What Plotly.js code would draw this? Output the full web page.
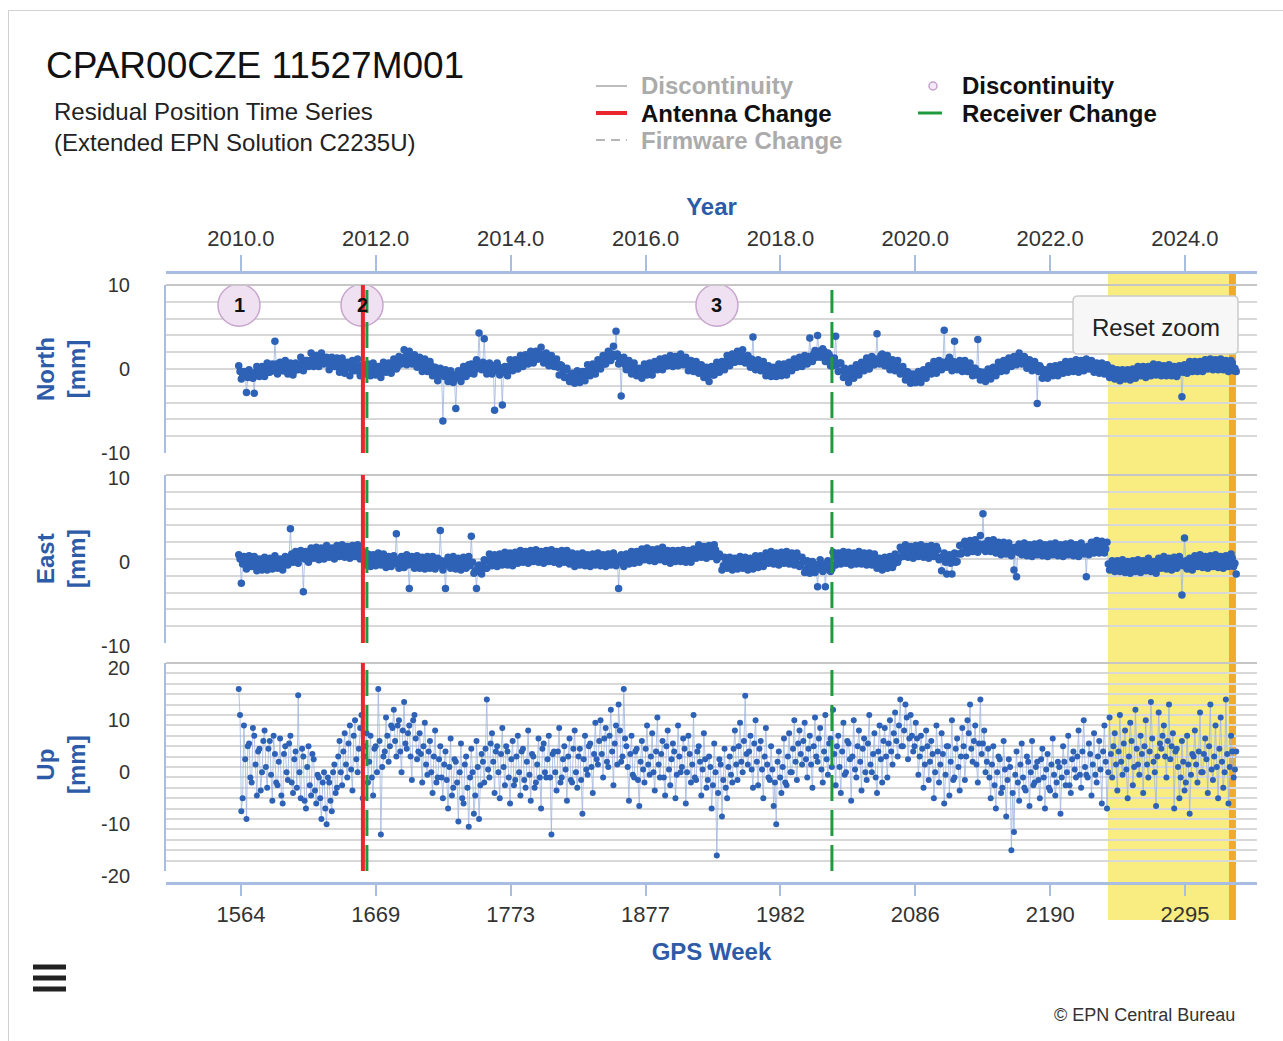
<!DOCTYPE html>
<html><head><meta charset="utf-8">
<script src="https://cdn.plot.ly/plotly-3.0.1.min.js"></script>
<style>
html,body{margin:0;padding:0;background:#fff;overflow:hidden;}
#frame{position:absolute;left:8px;top:10px;width:1300px;height:1040px;border:1px solid #d2d2d2;box-sizing:border-box;}
#chart{position:absolute;left:0;top:0;width:1283px;height:1041px;}
</style></head><body>
<div id="frame"></div><div id="chart"></div>
<script>
// ---- time sampling of the residual series (GPS weeks) ----
// "even" readings at startWeek + 2*i, "odd" readings at startWeek + 1 + 2*i
const startWeek = 1563;
const stepWeeks = 2;

// ---- residuals [mm] ----
const northEven = [
0.4,-1.2,-0.3,-2.8,-0.1,-1.0,-2.9,0.3,-0.9,0.3,
-0.9,0.7,-0.4,0.6,3.3,-0.6,0.8,-0.2,1.0,-0.6,
0.7,-0.7,0.7,-0.1,1.4,-0.2,1.0,0.3,1.9,0.3,
1.6,0.3,1.9,0.6,1.4,-0.1,1.4,0.3,1.3,-0.4,
1.3,-0.5,0.8,-0.8,1.0,-0.2,1.2,-0.8,0.5,-0.6,
0.6,-0.8,0.7,-0.7,0.3,-1.0,0.8,-0.4,0.7,-0.5,
1.2,0.0,1.5,0.6,2.3,0.5,2.1,0.6,1.7,0.2,
1.4,-0.3,1.2,-0.3,0.9,-0.8,0.2,-1.4,0.1,-6.2,
-0.1,-1.5,-0.2,-1.6,-4.7,-0.2,-1.5,0.3,-0.9,0.5,
0.6,-0.6,1.1,4.3,-0.1,3.6,-0.6,0.7,-0.6,-4.9,
0.7,-0.7,-4.3,0.3,-0.8,1.1,-0.2,1.1,0.0,1.6,
0.3,1.7,0.6,2.1,0.7,2.1,1.2,2.6,0.7,1.9,
0.4,1.6,0.3,1.2,-0.7,0.4,-1.0,0.1,-1.5,-0.5,
-1.7,-0.2,-1.6,-0.3,-1.4,0.5,-0.8,0.6,-0.6,1.1,
0.0,1.6,0.6,2.1,1.0,2.7,4.5,0.6,-3.2,1.4,
-0.1,1.0,-0.6,0.7,-0.8,0.1,-1.1,0.6,-0.7,0.7,
-0.7,0.9,-0.1,1.2,-0.1,1.3,0.4,1.6,0.3,1.5,
0.4,1.8,0.5,1.4,-0.2,1.0,-0.3,0.9,-0.5,0.5,
-1.0,0.2,-1.5,0.3,-0.7,0.8,-0.4,0.9,-0.1,1.6,
0.4,1.8,0.8,2.1,0.9,2.3,0.7,1.6,0.2,3.8,
-0.1,1.1,-0.2,0.9,-0.8,0.4,-0.9,0.2,-0.9,0.6,
-0.8,0.6,-0.7,0.8,-0.2,1.2,0.2,1.4,0.3,1.6,
0.6,3.7,0.9,2.2,4.0,1.4,2.4,0.9,1.9,0.4,
0.4,3.9,-0.3,0.7,-1.0,-0.1,-1.6,0.1,-1.1,0.5,
-0.7,0.8,-0.2,1.3,0.0,1.5,0.5,4.2,0.6,1.8,
0.4,1.6,-0.1,1.1,-0.2,1.0,-0.6,0.3,-1.3,-0.4,
-1.7,-0.6,-1.6,-0.3,-1.6,-0.1,-1.1,0.4,-0.6,0.9,
-0.5,1.0,-0.1,4.6,0.2,1.4,-0.2,3.3,-0.1,1.0,
-0.3,1.0,-0.3,0.7,-0.8,0.1,3.5,-1.3,-0.4,-1.5,
0.0,-1.2,0.2,-0.8,0.8,-0.3,1.0,-0.2,1.3,0.3,
1.5,0.5,1.9,0.6,1.5,0.1,1.1,-0.2,0.9,-4.1,
0.4,-1.1,-0.1,-1.1,0.3,-0.8,0.4,-0.8,0.5,-0.5,
0.9,-0.4,0.9,-0.3,1.1,-0.4,1.0,-0.2,1.2,0.0,
1.0,-0.4,0.7,-0.5,0.7,-0.6,0.5,-1.0,0.1,-1.2,
-0.1,-1.4,-0.1,-1.2,-0.1,-1.3,0.0,-1.1,0.3,-0.8,
0.3,-1.0,0.3,-0.8,0.6,-0.7,0.5,-0.8,0.4,-0.8,
0.5,-0.8,0.3,-0.9,0.4,-3.3,0.5,-0.5,0.9,-0.3,
0.9,-0.3,0.9,-0.3,1.1,0.0,1.2,-0.1,1.1,-0.1,
1.2,-0.1,1.0,-0.3,1.0,-0.2,-0.3
];
const northOdd = [
-0.3,-0.9,-0.5,-1.0,-0.6,-1.1,-0.4,-0.8,-0.2,-0.6,
0.1,-0.4,0.3,-0.2,0.6,0.0,0.5,-0.2,0.4,-0.3,
0.3,-0.2,0.5,0.0,0.8,0.2,1.0,0.5,1.2,0.6,
1.2,0.7,1.3,0.8,1.1,0.5,0.9,0.3,0.8,0.1,
0.7,0.1,0.6,0.0,0.5,-0.1,0.4,-0.2,0.3,-0.3,
0.2,-0.4,0.1,-0.5,0.1,-0.4,0.2,-0.3,0.4,0.0,
0.7,0.3,1.1,0.8,1.5,0.9,1.4,0.8,1.3,0.7,
1.0,0.3,0.7,0.0,0.4,-0.4,0.0,-0.7,-0.2,-0.9,
-0.5,-1.2,-0.7,-1.2,-0.6,-1.0,-0.4,-0.9,-0.1,-0.5,
0.3,-0.1,0.7,0.3,0.8,0.1,0.6,-0.1,0.4,-0.2,
0.3,-0.4,0.1,-0.5,0.3,-0.1,0.6,0.2,0.9,0.5,
1.2,0.7,1.4,1.0,1.6,1.2,1.8,1.4,1.8,1.1,
1.4,0.7,1.0,0.2,0.5,-0.4,-0.1,-1.0,-0.7,-1.5,
-0.8,-1.3,-0.6,-1.0,-0.3,-0.7,0.0,-0.3,0.4,0.1,
0.9,0.6,1.4,1.0,1.8,1.5,1.8,1.0,1.3,0.5,
0.9,0.1,0.5,-0.3,0.0,-0.8,-0.1,-0.5,0.2,-0.3,
0.4,0.0,0.7,0.2,0.9,0.4,1.0,0.5,1.2,0.7,
1.3,0.8,1.2,0.5,0.9,0.2,0.6,-0.1,0.3,-0.4,
0.0,-0.7,-0.3,-0.7,0.1,-0.3,0.5,0.1,0.9,0.5,
1.2,0.8,1.5,1.2,1.9,1.2,1.5,0.8,1.2,0.5,
0.9,0.2,0.6,-0.1,0.3,-0.4,0.0,-0.8,-0.1,-0.5,
0.2,-0.3,0.4,0.0,0.7,0.2,0.9,0.5,1.2,0.8,
1.5,1.1,1.8,1.4,2.1,1.7,2.1,1.3,1.7,0.9,
1.3,0.5,0.7,-0.2,0.1,-0.8,-0.6,-1.0,-0.2,-0.5,
0.3,-0.1,0.6,0.2,0.9,0.5,1.2,0.8,1.6,0.9,
1.3,0.6,1.0,0.3,0.7,-0.1,0.2,-0.6,-0.3,-1.1,
-0.8,-1.6,-0.8,-1.2,-0.5,-0.8,-0.1,-0.5,0.2,-0.2,
0.5,0.1,0.8,0.3,1.0,0.4,0.9,0.3,0.8,0.2,
0.7,0.1,0.5,-0.3,0.1,-0.7,-0.3,-1.0,-0.6,-1.0,
-0.3,-0.8,0.0,-0.4,0.3,-0.1,0.6,0.2,0.9,0.5,
1.2,0.8,1.5,0.8,1.2,0.5,0.9,0.1,0.5,-0.3,
0.1,-0.7,-0.3,-0.8,-0.1,-0.6,0.1,-0.4,0.3,-0.1,
0.6,0.0,0.6,0.1,0.7,0.1,0.7,0.2,0.8,0.2,
0.7,0.0,0.5,-0.2,0.3,-0.3,0.2,-0.5,-0.1,-0.8,
-0.4,-1.1,-0.5,-1.0,-0.4,-0.9,-0.2,-0.7,-0.1,-0.6,
0.0,-0.5,0.1,-0.5,0.2,-0.4,0.2,-0.4,0.2,-0.4,
0.1,-0.4,0.1,-0.5,0.1,-0.4,0.3,-0.2,0.4,-0.1,
0.6,0.1,0.7,0.2,0.7,0.2,0.8,0.3,0.8,0.3,
0.9,0.3,0.8,0.2,0.7,0.1
];
const eastEven = [
0.5,-2.9,0.3,-1.2,0.4,-0.9,0.3,-1.4,0.0,-1.3,
0.2,-1.3,0.1,-1.2,0.4,-1.1,0.0,-1.3,0.3,-0.7,
3.6,-0.4,0.9,-0.5,1.0,-3.9,0.9,-0.4,1.3,0.1,
1.4,-0.1,1.3,0.0,1.6,0.2,1.3,0.0,1.6,0.3,
1.7,0.2,1.5,0.1,1.6,0.3,1.7,0.0,0.9,-0.7,
0.6,-0.9,0.5,-0.8,0.7,-0.7,0.6,-1.0,0.3,-0.9,
0.4,3.0,-1.1,0.3,-1.0,0.5,-3.5,0.3,-1.1,0.4,
-1.1,0.2,-1.2,0.3,-1.1,0.3,-1.2,0.1,3.4,-1.3,
-3.5,0.2,-1.1,0.3,-1.2,0.1,-1.3,0.2,-1.1,0.3,
2.7,-1.7,-3.5,-0.7,-1.8,-0.1,-1.1,0.6,-0.8,0.5,
-0.9,0.6,-0.7,0.8,-0.7,0.7,-0.8,0.8,-0.5,1.0,
-0.4,0.9,-0.5,1.0,-0.3,1.1,-0.4,0.9,-0.5,1.0,
-0.3,1.1,-0.4,0.9,-0.6,1.0,-0.4,1.0,-0.6,0.7,
-0.9,0.6,-0.7,0.7,-0.8,0.5,-0.9,0.6,-0.7,0.7,
-0.8,0.5,-0.9,0.6,-0.7,0.7,-0.8,-3.5,0.5,-0.9,
0.6,-0.6,0.9,-0.5,0.9,-0.4,1.2,-0.1,1.3,-0.2,
1.1,-0.3,1.2,-0.1,1.4,-0.3,1.0,-0.5,1.0,-0.3,
1.0,-0.3,1.1,-0.4,1.0,-0.4,1.2,0.1,1.7,0.2,
1.5,0.1,1.6,0.3,1.7,-0.1,0.6,-1.3,0.2,-1.1,
0.2,-1.3,0.1,-1.2,0.3,-1.1,0.2,-1.3,0.1,-1.2,
0.4,-1.0,0.4,-0.9,0.7,-0.5,0.9,-0.6,0.7,-0.7,
0.8,-0.5,0.9,-0.6,0.7,-0.7,0.7,-0.9,0.2,-1.6,
-0.2,-1.7,-0.3,-1.6,-3.3,-0.1,-1.5,-3.3,-0.2,-1.5,
0.8,-0.7,0.7,-0.6,0.9,-0.5,0.8,-0.7,0.7,-0.6,
0.9,-0.6,0.7,-0.7,0.7,-0.7,0.6,-1.1,0.1,-1.3,
0.2,-1.1,0.3,-1.0,0.6,-0.4,1.4,0.3,1.7,0.2,
1.5,0.1,1.6,0.3,1.7,0.2,1.5,0.1,1.6,0.3,
1.5,-0.1,-1.4,0.7,-1.8,0.5,-1.8,0.7,-0.3,1.6,
0.8,2.1,0.7,2.2,0.9,2.3,0.8,2.8,5.4,0.9,
2.2,0.9,2.3,0.7,2.0,0.5,2.0,0.6,1.9,0.4,
-1.3,-2.1,1.8,0.5,1.9,0.4,1.7,0.3,1.8,0.5,
1.9,0.4,1.7,0.3,1.8,0.5,1.9,0.4,1.7,0.3,
1.8,0.5,1.9,0.4,1.7,0.3,1.9,0.6,-2.1,0.5,
2.0,0.7,2.2,0.7,2.1,0.7,2.0,-1.3,-0.2,-1.5,
-0.2,-1.5,-0.1,-1.6,-0.3,-1.7,-0.2,-1.5,-0.1,-1.6,
-0.2,-1.4,0.1,-1.5,-0.3,-1.7,0.1,-1.1,0.3,-1.2,
0.1,-1.3,0.2,-1.1,0.3,-4.3,2.5,-1.2,0.1,-1.3,
0.4,-0.9,0.5,-1.0,0.3,-1.1,0.4,-0.9,0.5,-1.0,
0.3,-1.1,0.4,-0.9,0.6,-0.9,-1.8
];
const eastOdd = [
0.0,-0.6,-0.1,-0.5,0.0,-0.7,-0.3,-0.8,-0.2,-0.7,
-0.2,-0.8,-0.3,-0.7,-0.2,-0.8,-0.3,-0.7,-0.1,0.1,
0.6,0.0,0.6,0.1,0.5,0.0,0.6,0.1,0.8,0.4,
1.0,0.4,1.0,0.5,1.1,0.5,1.1,0.6,1.2,0.6,
1.2,0.6,1.2,0.6,1.2,0.6,1.1,0.5,0.4,-0.3,
0.2,-0.4,0.2,-0.4,0.2,-0.4,0.2,-0.5,0.0,-0.6,
0.0,-0.6,0.0,-0.6,0.0,-0.7,0.0,-0.6,0.0,-0.6,
-0.1,-0.7,-0.1,-0.8,-0.2,-0.8,-0.2,-0.8,-0.2,-0.8,
-0.2,-0.8,-0.2,-0.8,-0.2,-0.9,-0.2,-0.8,-0.2,-0.8,
-0.4,-1.4,-1.0,-1.6,-0.8,-1.1,-0.2,-0.5,0.2,-0.4,
0.2,-0.4,0.3,-0.3,0.3,-0.2,0.4,-0.2,0.4,-0.1,
0.6,0.0,0.6,0.0,0.7,0.0,0.6,0.0,0.6,0.0,
0.6,0.0,0.6,0.0,0.5,-0.1,0.5,-0.1,0.4,-0.2,
0.2,-0.4,0.2,-0.4,0.2,-0.4,0.2,-0.4,0.2,-0.4,
0.2,-0.4,0.2,-0.4,0.2,-0.4,0.2,-0.4,0.2,-0.4,
0.2,-0.3,0.4,-0.1,0.6,0.1,0.8,0.2,0.8,0.2,
0.8,0.2,0.8,0.2,0.7,0.1,0.7,0.0,0.6,0.0,
0.6,0.0,0.6,0.0,0.6,0.1,0.8,0.4,1.2,0.6,
1.2,0.6,1.2,0.6,1.1,0.3,0.3,-0.8,-0.2,-0.8,
-0.2,-0.8,-0.2,-0.8,-0.2,-0.8,-0.2,-0.8,-0.2,-0.8,
-0.1,-0.6,0.1,-0.4,0.3,-0.2,0.4,-0.2,0.4,-0.2,
0.4,-0.2,0.4,-0.2,0.4,-0.2,0.3,-0.6,-0.3,-1.2,
-0.6,-1.2,-0.6,-1.2,-0.6,-1.2,-0.6,-1.2,-0.6,-1.2,
0.4,-0.2,0.4,-0.2,0.4,-0.2,0.4,-0.2,0.4,-0.2,
0.4,-0.2,0.4,-0.2,0.3,-0.4,0.1,-0.6,-0.2,-0.8,
-0.2,-0.8,-0.2,-0.6,0.3,0.1,1.0,0.6,1.2,0.6,
1.2,0.6,1.2,0.6,1.2,0.6,1.2,0.6,1.2,0.6,
1.1,0.2,0.3,-0.4,0.1,-0.5,0.1,-0.4,0.6,0.6,
1.8,1.2,1.8,1.2,1.8,1.2,1.8,1.2,1.8,1.2,
1.8,1.2,1.7,1.1,1.6,1.0,1.5,0.9,1.4,0.8,
1.4,0.8,1.4,0.8,1.4,0.8,1.4,0.8,1.4,0.8,
1.4,0.8,1.4,0.8,1.4,0.8,1.4,0.8,1.4,0.8,
1.4,0.8,1.4,0.8,1.4,0.9,1.5,0.9,1.5,0.9,
1.6,1.0,1.7,1.1,1.7,1.2,-0.6,-1.2,-0.6,-1.2,
-0.6,-1.2,-0.6,-1.2,-0.6,-1.2,-0.6,-1.2,-0.6,-1.2,
-0.6,-1.1,-0.4,-1.1,-0.6,-1.1,-0.3,-0.8,-0.2,-0.8,
-0.2,-0.8,-0.2,-0.8,-0.2,-0.8,-0.2,-0.8,-0.2,-0.8,
0.0,-0.6,0.0,-0.6,0.0,-0.6,0.0,-0.6,0.0,-0.6,
0.0,-0.6,0.0,-0.6,0.1,-0.5
];
const upEven = [
15.0,-8.5,8.0,-10.0,4.5,-3.0,6.0,-5.5,3.5,-1.0,
7.0,-4.0,5.0,-6.5,2.5,-3.5,5.5,-7.0,4.0,-2.5,
6.0,-5.0,3.0,13.8,-6.0,2.0,-8.0,4.0,-5.5,1.5,
-7.0,-2.0,-10.0,-1.0,-11.0,-3.0,-8.5,0.5,-4.0,5.0,
-3.5,6.5,-2.0,8.0,-4.5,9.0,-1.0,7.5,-6.0,4.0,
-3.0,6.0,-5.5,4.0,15.0,-13.0,2.0,9.5,1.0,8.0,
11.0,2.0,9.0,-1.0,12.5,3.5,8.0,-2.5,10.0,1.5,
6.5,-3.0,8.5,-1.5,5.0,-5.0,7.0,-2.0,4.0,-6.0,
3.0,-8.0,5.5,-4.0,1.0,-10.5,4.5,-7.0,2.0,-11.5,
3.5,-9.0,5.0,-10.0,2.5,-3.0,13.0,-2.0,6.5,-5.0,
4.0,-6.0,7.5,-3.5,3.0,-7.0,5.0,-2.5,6.0,-5.5,
3.5,-4.0,7.0,-6.5,2.0,-3.0,5.5,-8.0,4.5,-2.0,
6.0,-13.0,3.0,-4.5,7.5,-2.0,4.0,-6.5,5.5,-3.0,
7.0,-4.0,3.5,-9.0,6.0,-1.5,4.5,-5.0,8.5,0.5,
9.0,-2.0,7.5,0.0,11.0,-3.5,8.0,12.0,1.0,15.0,
4.0,-6.5,6.0,-2.0,3.5,-7.5,5.0,-3.0,8.0,-1.5,
6.5,-4.5,9.5,-2.0,5.0,-5.5,7.0,-3.5,4.5,-6.0,
8.0,-1.0,5.5,-7.0,6.0,-3.0,10.0,-2.5,4.0,-5.5,
6.5,-4.0,2.0,-8.0,4.5,-17.0,1.5,-9.5,3.5,-6.0,
2.0,-3.0,7.0,-2.5,8.5,-1.0,13.7,0.5,6.0,-4.0,
9.0,-3.5,5.0,-6.0,7.5,-2.0,4.0,-7.5,-11.0,3.0,
-5.0,5.5,-3.5,6.5,-1.0,9.0,-2.5,7.0,0.5,8.5,
-2.0,6.0,-4.0,9.5,1.0,7.5,-3.0,10.0,-1.5,5.5,
11.0,-3.5,6.0,-5.0,8.5,-1.0,4.5,-6.5,9.0,-2.0,
7.0,-4.5,5.5,-2.5,10.0,-1.0,6.5,-5.0,8.0,-3.0,
7.5,-2.0,9.0,0.5,10.5,2.0,13.0,4.0,12.0,1.5,
10.0,3.0,8.5,-1.5,6.0,-4.0,7.0,-2.5,5.0,-6.0,
8.0,-3.0,6.5,-7.0,4.0,-5.5,9.0,-2.0,5.5,-4.5,
7.5,-2.5,9.0,12.0,1.0,8.0,-3.0,13.0,4.5,-1.0,
3.5,-6.0,4.0,-8.0,2.0,-5.0,5.0,-9.5,1.5,-16.0,
-12.5,3.0,-6.5,4.5,-4.0,2.0,-7.5,5.0,-3.0,1.0,
-6.0,3.5,-8.0,2.5,-4.5,5.5,-5.5,1.0,-9.0,4.0,
-3.5,6.0,-5.0,3.0,-2.0,7.0,-4.0,9.0,-1.5,4.5,
-5.5,6.5,-3.0,5.0,-7.0,8.0,-8.0,9.5,-2.0,6.5,
-4.5,10.0,-1.5,7.0,-6.0,8.5,-3.5,11.0,0.5,6.0,
-5.0,9.0,-2.0,12.5,1.0,-7.5,10.5,3.5,8.0,-2.0,
12.0,4.0,-8.0,3.5,-6.0,5.0,-4.5,6.0,-9.0,2.5,
7.0,-3.0,10.5,-1.0,5.5,-5.0,12.0,-2.5,8.0,-6.0,
9.5,-4.0,13.0,-7.0,6.0,-2.0,3.0
];
const upOdd = [
10.0,-6.0,1.5,4.0,-2.0,7.5,0.5,3.0,-4.5,5.0,
0.0,3.5,-1.5,6.0,-3.0,1.0,-5.5,2.5,-1.0,4.5,
-3.0,1.5,-4.0,-1.0,3.5,-6.5,0.0,-3.5,2.5,-4.5,
-1.5,-6.0,-3.0,-8.0,-2.0,-6.5,-1.0,-5.0,2.0,-1.0,
3.0,0.5,4.5,-0.5,6.0,1.5,3.5,10.0,2.0,6.5,
1.0,-2.0,3.5,-1.0,5.0,0.0,3.0,6.0,4.0,7.5,
5.0,8.0,3.0,7.0,4.5,6.5,2.0,9.0,5.5,3.0,
2.5,4.0,0.5,3.0,-1.0,2.0,-3.0,1.5,-2.0,0.5,
-2.5,0.0,-5.5,1.5,-3.0,-1.0,-6.0,0.5,-4.0,-2.0,
-1.0,-5.5,0.0,-3.5,1.0,3.5,-0.5,4.5,1.0,3.0,
-1.0,2.5,0.0,4.0,-2.0,1.5,-3.5,2.0,-1.0,3.0,
-2.5,1.0,-1.5,2.5,-4.0,0.5,-2.0,3.5,-1.0,1.5,
-2.0,2.5,-1.0,3.0,-3.0,1.5,-0.5,2.0,-2.5,3.5,
-1.0,2.0,-2.5,1.5,-0.5,4.0,0.0,2.5,1.5,5.0,
2.5,5.5,1.0,6.0,3.0,4.5,0.5,7.0,2.0,5.5,
0.0,2.5,-1.5,3.0,-2.5,1.0,-0.5,3.5,0.5,2.0,
-1.0,3.0,0.5,2.5,-2.0,4.0,-0.5,1.5,3.0,-1.5,
2.0,0.0,3.5,-1.0,2.5,0.5,-2.0,3.0,1.0,-0.5,
1.5,-2.5,0.0,-3.5,-1.0,-5.0,0.5,-2.5,-4.0,0.0,
-1.5,3.5,0.5,4.0,1.0,5.0,2.5,3.0,-0.5,4.5,
1.0,3.5,-0.5,2.0,0.5,-2.5,-0.5,-3.0,1.0,-2.0,
0.0,-3.0,2.0,-1.0,3.5,1.0,4.5,2.5,5.0,1.5,
3.5,0.5,4.0,2.0,5.5,-0.5,3.0,1.5,4.5,0.0,
2.5,4.0,0.0,3.0,-1.5,5.0,1.5,2.0,-0.5,4.0,
1.0,3.5,-1.0,4.5,0.5,2.5,-2.0,3.0,1.5,5.0,
2.0,4.5,3.0,6.5,5.0,8.0,4.0,7.0,9.5,5.5,
6.0,4.0,5.5,2.0,3.5,0.5,4.0,1.0,2.5,-1.0,
3.0,0.5,2.5,-1.5,4.0,1.0,-2.5,3.5,0.0,2.0,
4.0,2.0,6.5,3.5,5.0,0.5,4.5,2.5,7.0,1.0,
-2.0,0.5,-3.5,-1.0,1.5,-4.0,-0.5,-2.5,0.0,-5.0,
-1.5,-3.0,0.5,-2.0,-4.5,1.0,-1.0,-3.5,0.0,-2.5,
1.5,-2.0,-0.5,-4.0,0.5,-1.5,-3.0,0.0,-2.0,1.0,
-1.0,-3.5,1.5,-0.5,2.0,-1.5,3.0,0.0,-2.0,2.5,
0.5,-1.5,2.0,-0.5,3.0,1.0,-1.0,2.5,4.0,0.5,
3.0,1.0,4.5,-0.5,2.0,5.0,0.0,3.5,-1.5,2.5,
4.0,0.5,3.0,5.5,-1.0,2.0,4.5,6.0,2.0,5.0,
1.5,6.5,3.0,0.0,-2.0,1.0,-3.0,0.5,-1.5,2.0,
0.5,3.0,-1.0,2.5,1.5,4.0,-0.5,2.0,0.0,3.5,
1.0,-1.0,2.5,0.0,3.0,-0.5
];

// ---- axes ----
const yearTickWeeks = [1564.71, 1669.0, 1773.43, 1877.86, 1982.29, 2086.57, 2191.0, 2295.29];
const yearLabels = ['2010.0','2012.0','2014.0','2016.0','2018.0','2020.0','2022.0','2024.0'];
const gpsWeekLabels = ['1564','1669','1773','1877','1982','2086','2190','2295'];
const smallTicks = [-10,-8,-6,-4,-2,0,2,4,6,8,10];
const smallTickText = ['-10','','','','','0','','','','','10'];
const upTicks = [-20,-18,-16,-14,-12,-10,-8,-6,-4,-2,0,2,4,6,8,10,12,14,16,18,20];
const upTickText = ['-20','','','','','-10','','','','','0','','','','','10','','','','','20'];
const weekRange = [1506.7, 2351.1];

// ---- events ----
const discWeeks = [1563.2, 1658.4, 1933.1];
const discLevel = [7.6, 7.6, 7.6];
const discLabels = ['1','2','3'];
const antennaWeeks = [1659.1];
const receiverWeeks = [1662.2, 2022.1];
const highlightWeeks = [2235.7, 2329.4];
const lastWeekBand = [2329.4, 2334.8];

// merge the even / odd readings in time order
function merged(even, odd) {
  const x = [], y = [];
  even.forEach((v, i) => {
    x.push(startWeek + stepWeeks * i); y.push(v);
    if (i < odd.length) { x.push(startWeek + 1 + stepWeeks * i); y.push(odd[i]); }
  });
  return {x, y};
}

// ---- styling ----
const FONT = 'Liberation Sans, Arial, sans-serif';
const TITLE_BLUE = '#2d5ba8';
const AXIS_C = '#a9bde2';
const GRID_C = '#d8d8d8';
const DOT = '#2e62b6';
const LINK = '#9fb5e0';

// pixel -> paper helpers (margins are fixed below)
const L = 166, R = 1257, T = 272, B = 883;
const PX = v => (v - L) / (R - L);
const PY = v => (B - v) / (B - T);

function series(even, odd, yaxis, size) {
  const d = merged(even, odd);
  return {x: d.x, y: d.y, xaxis: 'x', yaxis: yaxis, type: 'scatter', mode: 'lines+markers',
    line: {color: LINK, width: 0.8}, marker: {color: DOT, size: size}, hoverinfo: 'x+y'};
}
const traces = [
  series(northEven, northOdd, 'y', 7.5), series(eastEven, eastOdd, 'y2', 7.5), series(upEven, upOdd, 'y3', 6),
  {x: discWeeks, y: discLevel, xaxis: 'x', yaxis: 'y', type: 'scatter', mode: 'markers',
   marker: {size: 42, color: '#efe1f1', line: {color: '#c9a6cf', width: 1.5}}, hoverinfo: 'skip'},
  {x: [], y: [], xaxis: 'x2', yaxis: 'y', type: 'scatter', mode: 'markers', hoverinfo: 'skip'}
];

function yAxis(domain, range, tv, tt, shift) {
  return {domain: domain, range: range, anchor: 'x', tickvals: tv, ticktext: tt,
    showgrid: true, gridcolor: GRID_C, gridwidth: 1.5, zeroline: false,
    showline: true, linecolor: AXIS_C, linewidth: 2,
    ticks: 'outside', ticklen: 30, tickcolor: 'rgba(0,0,0,0)', ticklabelshift: shift,
    tickfont: {size: 20, color: '#333', family: FONT}, fixedrange: true};
}

const shapes = [];
shapes.push({type: 'rect', xref: 'x', yref: 'paper', x0: highlightWeeks[0], x1: highlightWeeks[1],
  y0: PY(920), y1: 1, fillcolor: '#f9ec80', line: {width: 0}, layer: 'below'});
shapes.push({type: 'rect', xref: 'x', yref: 'paper', x0: lastWeekBand[0], x1: lastWeekBand[1],
  y0: PY(920), y1: 1, fillcolor: '#f0ab2f', line: {width: 0}, layer: 'below'});
['y', 'y2', 'y3'].forEach(ax => {
  shapes.push({type: 'line', xref: 'paper', yref: ax + ' domain', x0: 0, x1: 1, y0: 1, y1: 1,
    line: {color: '#c6c6c6', width: 2}});
  antennaWeeks.forEach(w => shapes.push({type: 'line', xref: 'x', yref: ax + ' domain', x0: w, x1: w,
    y0: 0, y1: 1, line: {color: '#e8262b', width: 4}}));
  receiverWeeks.forEach(w => shapes.push({type: 'line', xref: 'x', yref: ax + ' domain', x0: w, x1: w,
    y0: 0, y1: 0.97, line: {color: '#1f9a3c', width: 3, dash: '26px,9px'}}));
});
// legend symbols
shapes.push({type: 'line', xref: 'paper', yref: 'paper', x0: PX(596), x1: PX(627), y0: PY(86), y1: PY(86), line: {color: '#bdbdbd', width: 2}});
shapes.push({type: 'line', xref: 'paper', yref: 'paper', x0: PX(596), x1: PX(627), y0: PY(113), y1: PY(113), line: {color: '#e8262b', width: 4}});
shapes.push({type: 'line', xref: 'paper', yref: 'paper', x0: PX(596), x1: PX(627), y0: PY(140), y1: PY(140), line: {color: '#b5b5b5', width: 2, dash: '9px,6px'}});
shapes.push({type: 'circle', xref: 'paper', yref: 'paper', x0: PX(929), x1: PX(937), y0: PY(90), y1: PY(82), fillcolor: '#f4eaf5', line: {color: '#c49fcb', width: 1.5}});
shapes.push({type: 'line', xref: 'paper', yref: 'paper', x0: PX(918), x1: PX(942), y0: PY(113), y1: PY(113), line: {color: '#1f9a3c', width: 3}});
function roundRect(x0, y0, x1, y1, r) {
  return `M${PX(x0 + r)},${PY(y0)} L${PX(x1 - r)},${PY(y0)} Q${PX(x1)},${PY(y0)} ${PX(x1)},${PY(y0 + r)} ` +
         `L${PX(x1)},${PY(y1 - r)} Q${PX(x1)},${PY(y1)} ${PX(x1 - r)},${PY(y1)} L${PX(x0 + r)},${PY(y1)} ` +
         `Q${PX(x0)},${PY(y1)} ${PX(x0)},${PY(y1 - r)} L${PX(x0)},${PY(y0 + r)} Q${PX(x0)},${PY(y0)} ${PX(x0 + r)},${PY(y0)} Z`;
}
shapes.push({type: 'path', xref: 'paper', yref: 'paper', path: roundRect(1073, 296, 1238, 354, 5),
  fillcolor: '#f7f7f7', line: {color: '#cccccc', width: 1.5}, layer: 'above'});
[967, 978, 989].forEach(y => shapes.push({type: 'line', xref: 'paper', yref: 'paper',
  x0: PX(33), x1: PX(66), y0: PY(y), y1: PY(y), line: {color: '#222', width: 5}}));

const ann = [];
function txt(text, x, y, size, color, xanchor, extra) {
  ann.push(Object.assign({text: text, xref: 'paper', yref: 'paper', x: PX(x), y: PY(y),
    xanchor: xanchor || 'left', yanchor: 'middle', showarrow: false,
    font: {size: size, color: color, family: FONT}}, extra || {}));
}
txt('CPAR00CZE 11527M001', 44, 66, 37, '#111');
txt('Residual Position Time Series<br>(Extended EPN Solution C2235U)', 52, 127, 24, '#222', 'left', {align: 'left'});
txt('<b>Discontinuity</b>', 639, 86, 24, '#ababab');
txt('<b>Antenna Change</b>', 639, 113, 24, '#111');
txt('<b>Firmware Change</b>', 639, 140, 24, '#ababab');
txt('<b>Discontinuity</b>', 960, 86, 24, '#111');
txt('<b>Receiver Change</b>', 960, 113, 24, '#111');
txt('Reset zoom', 1155.5, 327, 24, '#222', 'center');
txt('© EPN Central Bureau', 1237, 1015, 18, '#333', 'right');
txt('<b>North</b><br><b>[mm]</b>', 61, 369, 24, TITLE_BLUE, 'center', {textangle: -90});
txt('<b>East</b><br><b>[mm]</b>', 61, 559, 24, TITLE_BLUE, 'center', {textangle: -90});
txt('<b>Up</b><br><b>[mm]</b>', 61, 765, 24, TITLE_BLUE, 'center', {textangle: -90});
discWeeks.forEach((w, i) => ann.push({text: '<b>' + discLabels[i] + '</b>', xref: 'x', yref: 'y',
  x: w, y: discLevel[i], showarrow: false, font: {size: 20, color: '#111', family: FONT}}));

const layout = {
  width: 1283, height: 1041,
  margin: {l: L, r: 1283 - R, t: T, b: 1041 - B, pad: 0},
  paper_bgcolor: 'rgba(0,0,0,0)', plot_bgcolor: 'rgba(0,0,0,0)',
  showlegend: false, hovermode: 'closest',
  font: {family: FONT, color: '#333'},
  xaxis: {range: weekRange, anchor: 'free', position: 0, showline: true, linecolor: AXIS_C, linewidth: 3,
    ticks: 'outside', ticklen: 11, tickwidth: 2, tickcolor: AXIS_C,
    tickvals: yearTickWeeks, ticktext: gpsWeekLabels, tickfont: {size: 22, color: '#333'},
    showgrid: false, zeroline: false, fixedrange: true,
    title: {text: '<b>GPS Week</b>', font: {size: 24, color: TITLE_BLUE}, standoff: 16}},
  xaxis2: {range: weekRange, overlaying: 'x', side: 'top', anchor: 'free', position: 1,
    showline: true, linecolor: AXIS_C, linewidth: 3,
    ticks: 'outside', ticklen: 16, tickwidth: 2, tickcolor: AXIS_C,
    tickvals: yearTickWeeks, ticktext: yearLabels, tickfont: {size: 22, color: '#333'},
    showgrid: false, zeroline: false, fixedrange: true,
    title: {text: '<b>Year</b>', font: {size: 24, color: TITLE_BLUE}, standoff: 2}},
  yaxis: yAxis([PY(453), PY(285)], [-10, 10], smallTicks, smallTickText, 0),
  yaxis2: yAxis([PY(643), PY(475)], [-10, 10], smallTicks, smallTickText, 3),
  yaxis3: yAxis([PY(871), PY(663)], [-20, 20], upTicks, upTickText, 5),
  shapes: shapes,
  annotations: ann
};

Plotly.newPlot('chart', traces, layout, {displayModeBar: false, responsive: false});
</script></body></html>
